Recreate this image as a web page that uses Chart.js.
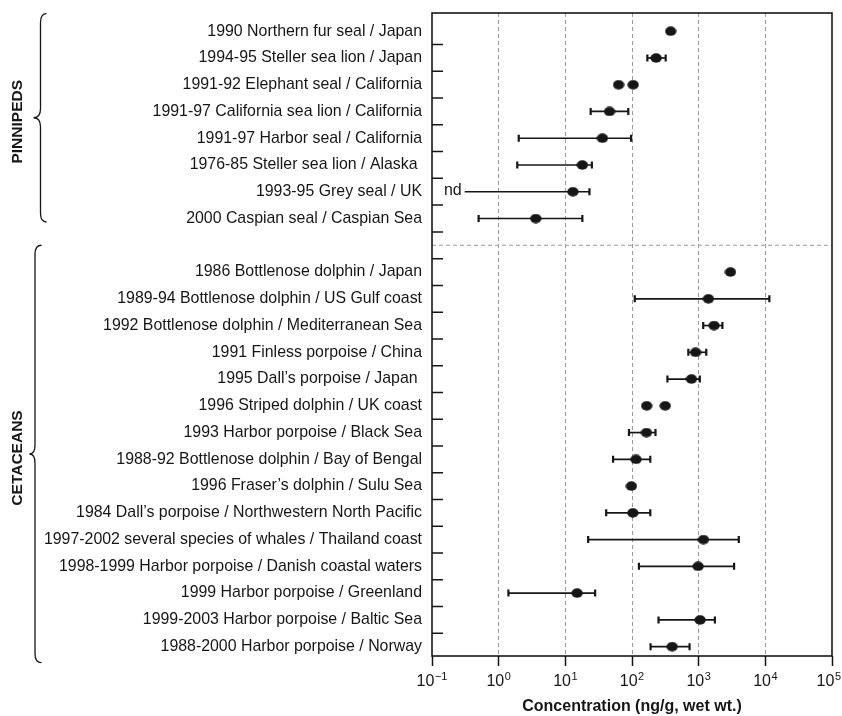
<!DOCTYPE html>
<html>
<head>
<meta charset="utf-8">
<script src="https://cdn.jsdelivr.net/npm/chart.js@4.4.1/dist/chart.umd.min.js"></script>
<style>
  html, body { margin: 0; padding: 0; background: #ffffff; }
  #wrap { width: 842px; height: 716px; }
</style>
</head>
<body>
<div id="wrap"><canvas id="chart" width="842" height="716"></canvas></div>
<script>
// ---- Data: concentrations in ng/g wet weight ----
const pinnipedLabels = [
  '1990 Northern fur seal / Japan',
  '1994-95 Steller sea lion / Japan',
  '1991-92 Elephant seal / California',
  '1991-97 California sea lion / California',
  '1991-97 Harbor seal / California',
  '1976-85 Steller sea lion / Alaska ',
  '1993-95 Grey seal / UK',
  '2000 Caspian seal / Caspian Sea'
];
const pinnipedMean   = [380, 230, 63, 46, 36, 18, 13, 3.6];
const pinnipedLow    = [null, 170, null, 24, 2.0, 1.9, 0.31, 0.5];
const pinnipedHigh   = [null, 320, null, 88, 97, 25, 23, 18];
const pinnipedSecond = [null, null, 104, null, null, null, null, null];
const pinnipedNd     = [false, false, false, false, false, false, true, false];

const cetaceanLabels = [
  '1986 Bottlenose dolphin / Japan',
  '1989-94 Bottlenose dolphin / US Gulf coast',
  '1992 Bottlenose dolphin / Mediterranean Sea',
  '1991 Finless porpoise / China',
  '1995 Dall\u2019s porpoise / Japan ',
  '1996 Striped dolphin / UK coast',
  '1993 Harbor porpoise / Black Sea',
  '1988-92 Bottlenose dolphin / Bay of Bengal',
  '1996 Fraser\u2019s dolphin / Sulu Sea',
  '1984 Dall\u2019s porpoise / Northwestern North Pacific',
  '1997-2002 several species of whales / Thailand coast',
  '1998-1999 Harbor porpoise / Danish coastal waters',
  '1999 Harbor porpoise / Greenland',
  '1999-2003 Harbor porpoise / Baltic Sea',
  '1988-2000 Harbor porpoise / Norway'
];
const cetaceanMean   = [3000, 1400, 1700, 900, 780, 166, 165, 115, 98, 103, 1180, 980, 15, 1050, 400];
const cetaceanLow    = [null, 110, 1170, 700, 340, null, 90, 52, null, 41, 22, 127, 1.4, 250, 190];
const cetaceanHigh   = [null, 11500, 2270, 1300, 1040, null, 225, 188, null, 188, 4000, 3400, 28, 1750, 730];
const cetaceanSecond = [null, null, null, null, null, 315, null, null, null, null, null, null, null, null, null];
const cetaceanNd     = cetaceanMean.map(() => false);

const groupNames = ['PINNIPEDS', 'CETACEANS'];
const tickExponents = [-1, 0, 1, 2, 3, 4, 5];
const axisTitle = 'Concentration (ng/g, wet wt.)';

// ---- Row layout: pinnipeds, one blank separator row, cetaceans ----
const rowLabels = [...pinnipedLabels, '', ...cetaceanLabels];
const gapRow = pinnipedLabels.length;
const cetStart = gapRow + 1;

const rows = [];
pinnipedMean.forEach((m, i) => rows.push({ row: i, mean: m, low: pinnipedLow[i], high: pinnipedHigh[i], second: pinnipedSecond[i], nd: pinnipedNd[i] }));
cetaceanMean.forEach((m, i) => rows.push({ row: cetStart + i, mean: m, low: cetaceanLow[i], high: cetaceanHigh[i], second: cetaceanSecond[i], nd: cetaceanNd[i] }));

const FONT = '"Liberation Sans", Arial, Helvetica, sans-serif';
const INK = '#161616';

// Filled ellipse used as the point marker
const dot = document.createElement('canvas');
dot.width = 12; dot.height = 10;
(function () {
  const g = dot.getContext('2d');
  g.fillStyle = INK;
  g.beginPath();
  g.ellipse(6, 5, 5.7, 4.7, 0, 0, Math.PI * 2);
  g.fill();
})();

// Horizontal error bars, drawn underneath the points
const errorBars = {
  id: 'errorBars',
  beforeDatasetsDraw(chart) {
    const { ctx, scales: { x, y } } = chart;
    ctx.save();
    ctx.strokeStyle = INK;
    rows.forEach(r => {
      if (r.low == null || r.high == null) return;
      const py = y.getPixelForValue(r.row);
      const x0 = x.getPixelForValue(r.low);
      const x1 = x.getPixelForValue(r.high);
      ctx.lineWidth = 1.7;
      ctx.beginPath();
      ctx.moveTo(x0, py); ctx.lineTo(x1, py);
      ctx.stroke();
      ctx.lineWidth = 2.2;
      ctx.beginPath();
      if (!r.nd) { ctx.moveTo(x0, py - 3.5); ctx.lineTo(x0, py + 3.5); }
      ctx.moveTo(x1, py - 3.5); ctx.lineTo(x1, py + 3.5);
      ctx.stroke();
      if (r.nd) {
        ctx.fillStyle = INK;
        ctx.font = '16px ' + FONT;
        ctx.textAlign = 'right';
        ctx.textBaseline = 'middle';
        ctx.fillText('nd', x0 - 3, py - 1);
      }
    });
    ctx.restore();
  }
};

// Frame, inner row ticks, separator line, decade labels and group braces
const decorations = {
  id: 'decorations',
  afterDraw(chart) {
    const { ctx, chartArea: a, scales: { x, y } } = chart;
    ctx.save();

    // dashed separator between the two groups
    const gy = y.getPixelForValue(gapRow);
    ctx.strokeStyle = '#9a9a9a';
    ctx.lineWidth = 1;
    ctx.setLineDash([4, 3]);
    ctx.beginPath();
    ctx.moveTo(a.left, gy); ctx.lineTo(a.right, gy);
    ctx.stroke();
    ctx.setLineDash([]);

    // inner tick marks between rows
    ctx.strokeStyle = INK;
    ctx.lineWidth = 1.5;
    ctx.beginPath();
    for (let i = 0; i < rowLabels.length - 1; i++) {
      const ty = y.getPixelForValue(i + 0.5);
      ctx.moveTo(a.left, ty); ctx.lineTo(a.left + 11, ty);
    }
    ctx.stroke();

    // plot frame
    ctx.lineWidth = 1.6;
    ctx.strokeRect(a.left, a.top, a.right - a.left, a.bottom - a.top);

    // decade labels with superscript exponents
    ctx.fillStyle = INK;
    ctx.textBaseline = 'alphabetic';
    ctx.textAlign = 'left';
    tickExponents.forEach(e => {
      const px = x.getPixelForValue(Math.pow(10, e));
      const base = '10';
      const sup = e < 0 ? '\u2212' + Math.abs(e) : String(e);
      ctx.font = '16px ' + FONT;
      const wb = ctx.measureText(base).width;
      ctx.font = '11px ' + FONT;
      const ws = ctx.measureText(sup).width;
      const total = wb + ws + 0.5;
      const sx = Math.min(px - total / 2, chart.width - 1 - total);
      ctx.font = '16px ' + FONT;
      ctx.fillText(base, sx, a.bottom + 29.5);
      ctx.font = '11px ' + FONT;
      ctx.fillText(sup, sx + wb + 0.5, a.bottom + 23.5);
    });

    // curly braces with rotated group names
    const brace = (xEnd, xMid, xTip, yTop, yBot) => {
      const yMid = (yTop + yBot) / 2;
      const r = 9;
      ctx.beginPath();
      ctx.moveTo(xEnd, yTop);
      ctx.quadraticCurveTo(xMid, yTop, xMid, yTop + r);
      ctx.lineTo(xMid, yMid - r);
      ctx.quadraticCurveTo(xMid, yMid, xTip, yMid);
      ctx.quadraticCurveTo(xMid, yMid, xMid, yMid + r);
      ctx.lineTo(xMid, yBot - r);
      ctx.quadraticCurveTo(xMid, yBot, xEnd, yBot);
      ctx.stroke();
      return yMid;
    };
    ctx.strokeStyle = INK;
    ctx.lineWidth = 1.3;
    const p0 = y.getPixelForValue(-0.66), p1 = y.getPixelForValue(gapRow - 0.87);
    const c0 = y.getPixelForValue(gapRow), c1 = y.getPixelForValue(rowLabels.length - 0.4);
    const pm = brace(46.5, 40.5, 33.5, p0, p1);
    const cm = brace(41.5, 35, 29.5, c0, c1);

    ctx.font = 'bold 15.5px ' + FONT;
    ctx.textAlign = 'center';
    ctx.textBaseline = 'middle';
    [[groupNames[0], pm + 4], [groupNames[1], cm + 4]].forEach(([t, cy]) => {
      ctx.save();
      ctx.translate(17.5, cy);
      ctx.rotate(-Math.PI / 2);
      ctx.fillText(t, 0, 0);
      ctx.restore();
    });

    ctx.restore();
  }
};

new Chart(document.getElementById('chart'), {
  type: 'scatter',
  data: {
    datasets: [
      {
        data: rows.map(r => ({ x: r.mean, y: r.row })),
        pointStyle: dot,
        pointRadius: 6,
        pointHoverRadius: 6
      },
      {
        data: rows.filter(r => r.second != null).map(r => ({ x: r.second, y: r.row })),
        pointStyle: dot,
        pointRadius: 6,
        pointHoverRadius: 6
      }
    ]
  },
  options: {
    responsive: false,
    animation: false,
    events: [],
    layout: { padding: { top: 13, right: 10, left: 0, bottom: 0 } },
    plugins: { legend: { display: false }, tooltip: { enabled: false } },
    scales: {
      x: {
        type: 'logarithmic',
        min: 0.1,
        max: 100000,
        afterBuildTicks: s => { s.ticks = tickExponents.map(e => ({ value: Math.pow(10, e) })); },
        afterFit: s => { s.height = 60; s.paddingLeft = 0; s.paddingRight = 0; },
        ticks: { display: false },
        grid: {
          color: c => (c.tick && (c.tick.value <= 0.1 || c.tick.value >= 100000)) ? 'rgba(0,0,0,0)' : '#9a9a9a',
          lineWidth: 1,
          tickColor: INK,
          tickWidth: 1.5,
          tickLength: 10
        },
        border: { display: false, dash: [4, 3] },
        title: {
          display: true,
          text: axisTitle,
          color: INK,
          font: { family: FONT, size: 16, weight: 'bold' },
          padding: { top: 0, bottom: 0 }
        }
      },
      y: {
        type: 'linear',
        reverse: true,
        min: -0.68,
        max: 23.35,
        afterBuildTicks: s => { s.ticks = rowLabels.map((_, i) => ({ value: i })); },
        afterFit: s => { s.width = 432; s.paddingTop = 0; s.paddingBottom = 0; },
        grid: { display: false, drawTicks: false },
        border: { display: false },
        ticks: {
          autoSkip: false,
          padding: 10,
          color: INK,
          font: { family: FONT, size: 15.9 },
          callback: v => rowLabels[v] ?? ''
        }
      }
    }
  },
  plugins: [errorBars, decorations]
});
</script>
</body>
</html>
